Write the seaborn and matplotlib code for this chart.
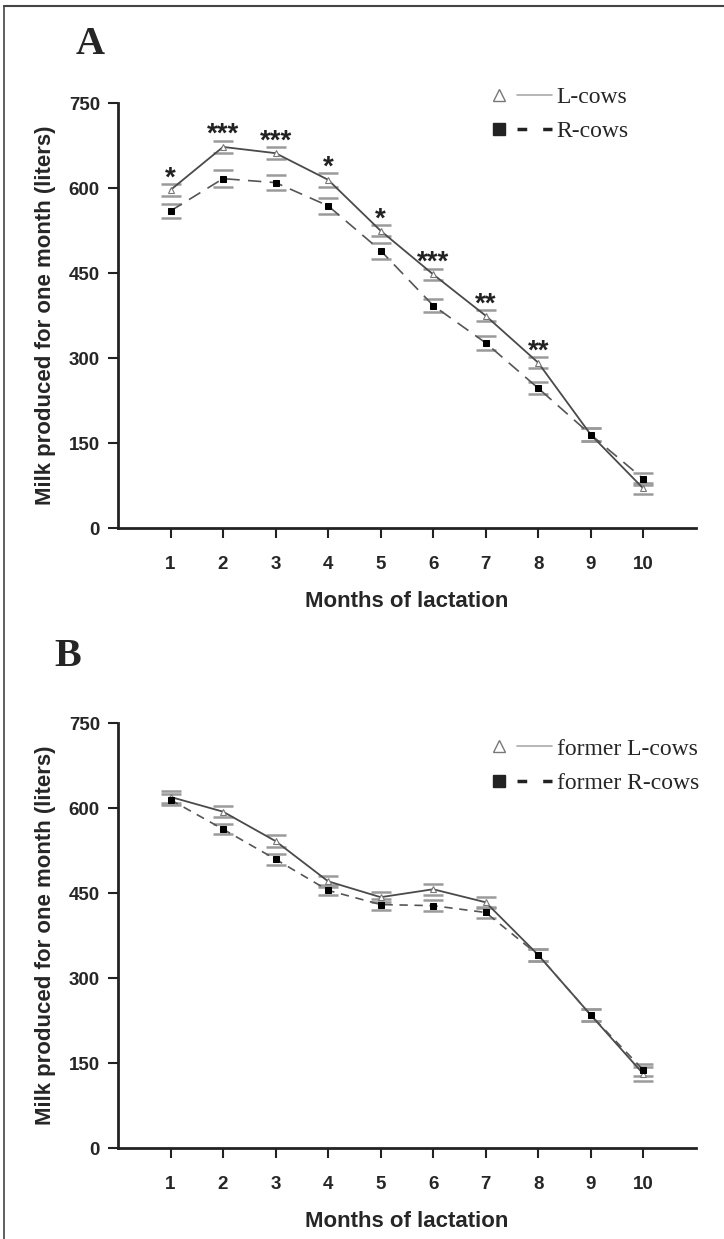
import numpy as np
import pandas as pd
import matplotlib
matplotlib.use('Agg')
import matplotlib.pyplot as plt
import seaborn as sns
from matplotlib.lines import Line2D
from matplotlib.legend_handler import HandlerTuple

# Data
months = [1, 2, 3, 4, 5, 6, 7, 8, 9, 10]

# Panel A
l_cows = [597, 673, 662, 615, 525, 448, 375, 292, 165, 70]
l_cows_err = [11, 11, 11, 12, 10, 10, 10, 10, 12, 10]
r_cows = [560, 617, 610, 569, 490, 393, 327, 247, 165, 87]
r_cows_err = [13, 15, 13, 14, 14, 11, 13, 11, 12, 11]
stars = ['*', '***', '***', '*', '*', '***', '**', '**', '', '']

# Panel B
former_l = [620, 594, 542, 471, 443, 457, 434, 341, 235, 131]
former_l_err = [10, 10, 10, 10, 9, 10, 10, 10, 10, 12]
former_r = [615, 563, 510, 455, 430, 428, 416, 341, 235, 138]
former_r_err = [10, 9, 10, 9, 10, 10, 9, 10, 10, 10]

sns.set_style('white')
plt.rcParams['font.family'] = ['Liberation Sans', 'DejaVu Sans']

fig = plt.figure(figsize=(7.24, 12.39), dpi=100)
axA = fig.add_axes([0.163, 0.5738, 0.798, 0.3428])
axB = fig.add_axes([0.163, 0.0734, 0.798, 0.3428])


def draw_panel(ax, lvals, lerr, rvals, rerr, labels, dash, leg_y):
    df = pd.DataFrame({'month': months * 2,
                       'milk': lvals + rvals,
                       'group': [labels[0]] * 10 + [labels[1]] * 10})
    sns.lineplot(data=df[df.group == labels[0]], x='month', y='milk', ax=ax,
                 color='#4a4a4a', lw=1.3, marker='^', markersize=5,
                 markerfacecolor='white', markeredgecolor='#777777',
                 markeredgewidth=0.8, legend=False, zorder=3)
    sns.lineplot(data=df[df.group == labels[1]], x='month', y='milk', ax=ax,
                 color='#555555', lw=1.2, marker='s', markersize=4.5,
                 markerfacecolor='black', markeredgecolor='black',
                 legend=False, zorder=3)
    ax.lines[-1].set_dashes(dash)
    ax.errorbar(months, lvals, yerr=lerr, fmt='none', ecolor='#9a9a9a',
                elinewidth=0, capsize=7, capthick=1.8, zorder=2)
    ax.errorbar(months, rvals, yerr=rerr, fmt='none', ecolor='#9a9a9a',
                elinewidth=0, capsize=7, capthick=1.8, zorder=2)

    ax.set_xlim(0, 11)
    ax.set_ylim(0, 750)
    ax.set_xticks(months)
    ax.set_yticks([0, 150, 300, 450, 600, 750])
    for s in ['top', 'right']:
        ax.spines[s].set_visible(False)
    for s in ['left', 'bottom']:
        ax.spines[s].set_linewidth(2)
        ax.spines[s].set_color('#222222')
    ax.tick_params(axis='both', which='both', direction='out', length=7,
                   width=1.5, color='#222222', labelsize=13.5, pad=6,
                   left=True, bottom=True)
    for t in ax.get_xticklabels() + ax.get_yticklabels():
        t.set_fontweight('bold')
    ax.tick_params(axis='x', pad=13)
    ax.set_xlabel('Months of lactation', fontsize=16, fontweight='bold',
                  labelpad=13)
    ax.set_ylabel('Milk produced for one month (liters)', fontsize=16,
                  fontweight='bold', labelpad=9)

    tri = Line2D([], [], ls='none', marker='^', markersize=8,
                 markerfacecolor='white', markeredgecolor='#777777',
                 markeredgewidth=1)
    sol = Line2D([], [], color='#aaaaaa', lw=1.2)
    sq = Line2D([], [], ls='none', marker='s', markersize=9,
                markerfacecolor='#222222', markeredgecolor='#222222')
    dsh = Line2D([], [], color='#222222', lw=2.5, dashes=(2.8, 4.6))
    leg = ax.legend([(tri, sol), (sq, dsh)], labels,
                    handler_map={tuple: HandlerTuple(ndivide=None, pad=0.05)},
                    loc='upper left', bbox_to_anchor=(0.592, leg_y),
                    frameon=False, handlelength=3.0, handletextpad=0.2,
                    labelspacing=0.55,
                    prop={'family': 'Liberation Serif', 'size': 17})
    return leg


draw_panel(axA, l_cows, l_cows_err, r_cows, r_cows_err,
           ['L-cows', 'R-cows'], (8, 5), 1.09)
draw_panel(axB, former_l, former_l_err, former_r, former_r_err,
           ['former L-cows', 'former R-cows'], (5, 4), 1.015)

# significance stars above L-cows
for m, v, e, s in zip(months, l_cows, l_cows_err, stars):
    if s:
        axA.annotate(s, xy=(m, v + e), xytext=(0, -1),
                     textcoords='offset points', ha='center', va='baseline',
                     fontsize=20, fontweight='bold', color='#222222')

fig.text(90 / 724, 1 - 44 / 1239, 'A', family='Liberation Serif',
         fontweight='bold', fontsize=29, ha='center', va='center')
fig.text(68 / 724, 1 - 657 / 1239, 'B', family='Liberation Serif',
         fontweight='bold', fontsize=29, ha='center', va='center')

# frame lines on top and left
fig.add_artist(Line2D([4 / 724, 4 / 724], [0, 1 - 6 / 1239],
                      transform=fig.transFigure, color='#444444', lw=1.2))
fig.add_artist(Line2D([4 / 724, 1], [1 - 6 / 1239, 1 - 6 / 1239],
                      transform=fig.transFigure, color='#444444', lw=1.5))

fig.savefig('out.png', dpi=100)
